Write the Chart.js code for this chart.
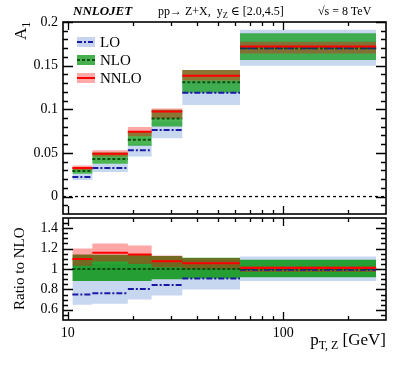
<!DOCTYPE html>
<html>
<head>
<meta charset="utf-8">
<script src="https://cdn.jsdelivr.net/npm/chart.js@4.4.0/dist/chart.umd.min.js"></script>
<style>
body { margin:0; background:#fff; width:407px; height:365px; overflow:hidden; position:relative;
       font-family:"Liberation Serif","DejaVu Serif",serif; color:#000; }
canvas { position:absolute; left:0; top:0; }
.t { position:absolute; white-space:nowrap; line-height:1; }
.rot { transform-origin:0 0; transform:rotate(-90deg); }
.lg { position:absolute; left:77px; font-size:15px; line-height:1; white-space:nowrap; }
.sw { display:inline-block; position:relative; width:18px; height:10px; vertical-align:middle; margin-right:5px; margin-top:-3px; }
.sw i { position:absolute; left:0; right:0; top:4px; height:2px; }
sub { font-size:70%; vertical-align:-0.3em; line-height:0; }
</style>
</head>
<body>
<canvas id="topChart" width="407" height="365"></canvas>
<canvas id="ratioChart" width="407" height="365"></canvas>

<div class="t" style="left:73px;top:4px;font-size:13px;font-weight:bold;font-style:italic;">NNLOJET</div>
<div class="t" style="left:158px;top:5px;font-size:12px;">pp→ Z+X,&nbsp; y<sub>Z</sub> ∈ [2.0,4.5]</div>
<div class="t" style="left:318px;top:5px;font-size:12px;">√s = 8 TeV</div>

<div class="t rot" style="left:12px;top:40px;font-size:17px;">A<sub>1</sub></div>
<div class="t rot" style="left:12px;top:310px;font-size:15px;">Ratio to NLO</div>
<div class="t" style="right:21px;top:331px;font-size:17px;">p<sub>T, Z</sub> [GeV]</div>

<div class="lg" style="top:35px"><span class="sw" style="background:#c6d4ee"><i style="background:repeating-linear-gradient(90deg,#1a1aa6 0 5px,transparent 5px 7px,#1a1aa6 7px 9px,transparent 9px 11px)"></i></span>LO</div>
<div class="lg" style="top:53px"><span class="sw" style="background:#46b04e"><i style="background:repeating-linear-gradient(90deg,#0b4f10 0 3px,transparent 3px 5px)"></i></span>NLO</div>
<div class="lg" style="top:71px"><span class="sw" style="background:#ffaaaa"><i style="background:#ff0000"></i></span>NNLO</div>

<script>
// -------------------------------
// DATA
// -------------------------------
const edges = [10.5, 13, 19, 24.5, 34, 63, 270];   // pT,Z bin edges [GeV]

// A1 values per bin
const loA     = [0.0225, 0.0328, 0.0530, 0.0762, 0.119, 0.170];
const loAlo   = [0.0190, 0.0282, 0.0460, 0.0667, 0.105, 0.150];
const loAhi   = [0.0265, 0.0380, 0.0600, 0.0860, 0.132, 0.191];
const nloA    = [0.0292, 0.0430, 0.0651, 0.0895, 0.131, 0.170];
const nloAlo  = [0.0262, 0.0377, 0.0583, 0.0804, 0.119, 0.1566];
const nloAhi  = [0.0330, 0.0505, 0.0752, 0.0995, 0.145, 0.187];
const nnloA   = [0.0328, 0.0491, 0.0743, 0.0975, 0.1383, 0.1718];
const nnloAlo = [0.0303, 0.0460, 0.0690, 0.0895, 0.133, 0.164];
const nnloAhi = [0.0355, 0.0530, 0.0796, 0.1010, 0.145, 0.1775];

// Ratio to NLO per bin
const loR     = [0.750, 0.763, 0.803, 0.843, 0.907, 0.993];
const loRlo   = [0.650, 0.660, 0.700, 0.740, 0.800, 0.883];
const loRhi   = [1.050, 1.050, 1.060, 1.080, 1.080, 1.123];
const nloR    = [1, 1, 1, 1, 1, 1];
const nloRlo  = [0.883, 0.883, 0.883, 0.900, 0.907, 0.920];
const nloRhi  = [1.143, 1.140, 1.137, 1.127, 1.110, 1.090];
const nnloR   = [1.097, 1.160, 1.143, 1.077, 1.057, 1.010];
const nnloRlo = [1.033, 1.073, 1.050, 1.017, 1.000, 0.970];
const nnloRhi = [1.200, 1.250, 1.230, 1.133, 1.105, 1.030];

// axes
const xMin = 9.5, xMax = 300;
const xTickVals = [10, 100];
const xMinorVals = [20, 30, 40, 50, 60, 70, 80, 90, 200];
const yTicksTop = [0, 0.05, 0.1, 0.15, 0.2];
const yLabelsTop = ["0", "0.05", "0.1", "0.15", "0.2"];
const yTicksRatio = [0.6, 0.8, 1, 1.2, 1.4];
const yLabelsRatio = ["0.6", "0.8", "1", "1.2", "1.4"];

// -------------------------------
// HELPERS
// -------------------------------
const FONT = "'Liberation Serif', 'DejaVu Serif', serif";

function steps(vals) {
    const pts = [];
    vals.forEach((v, i) => {
        pts.push({ x: edges[i], y: v }, { x: edges[i + 1], y: v });
    });
    return pts;
}

function segs(vals) {
    const pts = [];
    vals.forEach((v, i) => {
        pts.push({ x: edges[i], y: v }, { x: edges[i + 1], y: v }, { x: edges[i + 1], y: null });
    });
    return pts;
}

function band(lo, hi, color, order) {
    return [
        { data: steps(lo), borderColor: "transparent", borderWidth: 0, pointRadius: 0, fill: false, order },
        { data: steps(hi), borderColor: "transparent", borderWidth: 0, pointRadius: 0, fill: "-1", backgroundColor: color, order }
    ];
}

function line(vals, color, dash, order) {
    return { data: segs(vals), borderColor: color, borderWidth: 2, borderDash: dash,
             pointRadius: 0, fill: false, spanGaps: false, order };
}

// frame + ROOT style inward ticks
const frameTicks = {
    id: "frameTicks",
    afterDatasetsDraw(chart, args, o) {
        const { ctx, chartArea: a, scales } = chart;
        const ys = scales.y, xs = scales.x;
        ctx.save();
        ctx.strokeStyle = "#000";
        ctx.lineWidth = 1.3;
        ctx.beginPath();
        o.yMajor.forEach(v => {
            const p = Math.round(ys.getPixelForValue(v)) + 0.5;
            ctx.moveTo(a.left, p); ctx.lineTo(a.left + 10, p);
            ctx.moveTo(a.right, p); ctx.lineTo(a.right - 10, p);
        });
        for (let v = o.yMinorStart; v <= o.yMinorEnd + 1e-9; v += o.yMinorStep) {
            const p = Math.round(ys.getPixelForValue(v)) + 0.5;
            ctx.moveTo(a.left, p); ctx.lineTo(a.left + 5, p);
            ctx.moveTo(a.right, p); ctx.lineTo(a.right - 5, p);
        }
        xTickVals.forEach(v => {
            const p = Math.round(xs.getPixelForValue(v)) + 0.5;
            ctx.moveTo(p, a.bottom); ctx.lineTo(p, a.bottom - 8);
            ctx.moveTo(p, a.top); ctx.lineTo(p, a.top + 8);
        });
        xMinorVals.forEach(v => {
            const p = Math.round(xs.getPixelForValue(v)) + 0.5;
            ctx.moveTo(p, a.bottom); ctx.lineTo(p, a.bottom - 4);
            ctx.moveTo(p, a.top); ctx.lineTo(p, a.top + 4);
        });
        ctx.stroke();
        ctx.lineWidth = 1.6;
        ctx.strokeRect(a.left, a.top, a.right - a.left, a.bottom - a.top);
        ctx.restore();
    }
};

function yScale(min, max, vals, labels) {
    return {
        type: "linear", min, max,
        afterFit(s) { s.width = 63; },
        afterBuildTicks(s) { s.ticks = vals.map(v => ({ value: v })); },
        ticks: { autoSkip: false, padding: 5, color: "#000",
                 font: { family: FONT, size: 14 },
                 callback: (v, i) => labels[i] },
        grid: { display: false, drawTicks: false },
        border: { display: false }
    };
}

// -------------------------------
// TOP PANEL: A1
// -------------------------------
new Chart(document.getElementById("topChart"), {
    type: "line",
    data: {
        datasets: [
            { data: [{ x: xMin, y: 0 }, { x: xMax, y: 0 }], borderColor: "#000", borderWidth: 1.3,
              borderDash: [3, 3], pointRadius: 0, fill: false, order: 9 },
            ...band(loAlo, loAhi, "rgba(110,150,215,0.38)", 8),
            ...band(nloAlo, nloAhi, "rgba(25,160,35,0.78)", 7),
            ...band(nnloAlo, nnloAhi, "rgba(255,0,0,0.35)", 6),
            line(loA, "#1a1aa6", [6, 2, 2, 2], 3),
            line(nloA, "#0b4f10", [3, 2], 2),
            line(nnloA, "#ff0000", [], 1)
        ]
    },
    options: {
        responsive: false,
        animation: false,
        layout: { padding: { top: 22, right: 21, bottom: 151, left: 0 } },
        scales: {
            x: { type: "logarithmic", min: xMin, max: xMax, display: false },
            y: yScale(-0.02, 0.2, yTicksTop, yLabelsTop)
        },
        plugins: {
            legend: { display: false },
            tooltip: { enabled: false },
            frameTicks: { yMajor: yTicksTop, yMinorStart: -0.01, yMinorEnd: 0.19, yMinorStep: 0.01 }
        }
    },
    plugins: [frameTicks]
});

// -------------------------------
// BOTTOM PANEL: ratio to NLO
// -------------------------------
new Chart(document.getElementById("ratioChart"), {
    type: "line",
    data: {
        datasets: [
            ...band(loRlo, loRhi, "rgba(110,150,215,0.38)", 8),
            ...band(nloRlo, nloRhi, "rgba(15,150,25,0.88)", 7),
            ...band(nnloRlo, nnloRhi, "rgba(255,0,0,0.35)", 6),
            line(loR, "#1a1aa6", [6, 2, 2, 2], 3),
            line(nloR, "#0b4f10", [3, 2], 2),
            line(nnloR, "#ff0000", [], 1)
        ]
    },
    options: {
        responsive: false,
        animation: false,
        layout: { padding: { top: 218, right: 21, bottom: 23, left: 0 } },
        scales: {
            x: {
                type: "logarithmic", min: xMin, max: xMax,
                afterFit(s) { s.height = 22; },
                afterBuildTicks(s) { s.ticks = xTickVals.map(v => ({ value: v })); },
                ticks: { autoSkip: false, maxRotation: 0, padding: 5, color: "#000",
                         font: { family: FONT, size: 14 },
                         callback: v => String(v) },
                grid: { display: false, drawTicks: false },
                border: { display: false }
            },
            y: yScale(0.5, 1.5, yTicksRatio, yLabelsRatio)
        },
        plugins: {
            legend: { display: false },
            tooltip: { enabled: false },
            frameTicks: { yMajor: yTicksRatio, yMinorStart: 0.55, yMinorEnd: 1.45, yMinorStep: 0.05 }
        }
    },
    plugins: [frameTicks]
});
</script>
</body>
</html>
